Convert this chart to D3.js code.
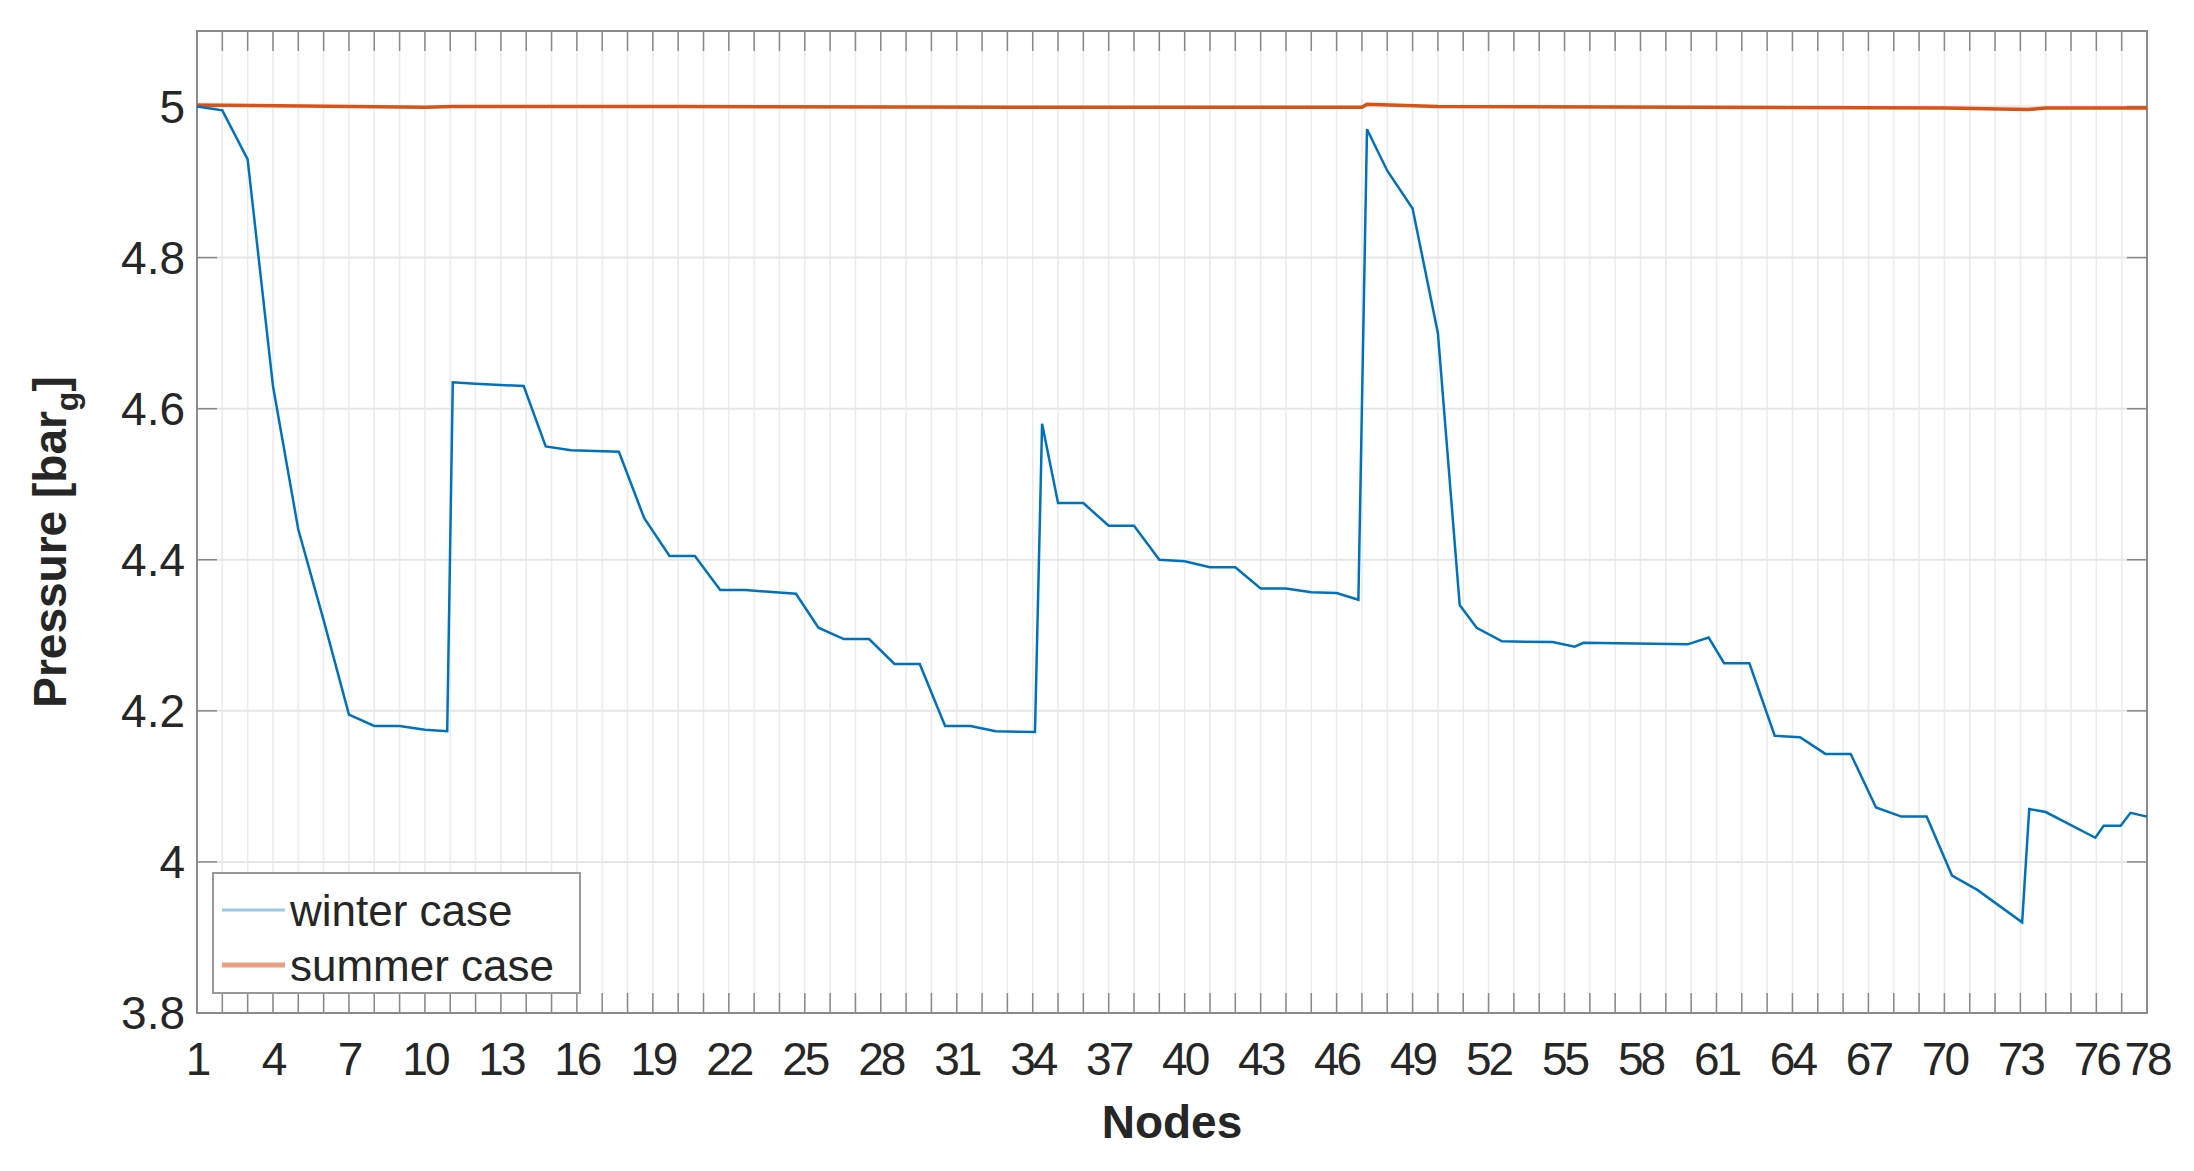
<!DOCTYPE html>
<html><head><meta charset="utf-8">
<script src="https://cdn.jsdelivr.net/npm/d3@7"></script>
<style>body{margin:0;background:#fff}svg{font-family:"Liberation Sans",Arial,sans-serif}</style>
</head><body><svg id="chart"></svg>
<script>
// winter case: node positions (fractional where the line jumps) and pressures
const winterNodes = [1,2,3,4,5,6,7,8,9,10,10.88,11.1,12,13.9,14.77,15.77,17.66,18.66,19.66,20.66,21.66,22.65,24.65,25.54,26.54,27.54,28.54,29.54,30.54,31.54,32.54,34.09,34.37,35,36,37,38,39,40,41,42,43,44,45,46,46.86,47.2,48,49,50,50.86,51.53,52.53,54.53,55.4,55.75,59.86,60.69,61.3,62.3,63.3,64.3,65.3,66.3,67.3,68.3,69.3,70.3,71.3,73.07,73.35,74,75.96,76.29,76.96,77.35,78];
const winterValues = [5.0,4.995,4.93,4.63,4.44,4.32,4.195,4.18,4.18,4.175,4.173,4.635,4.633,4.63,4.55,4.545,4.543,4.455,4.405,4.405,4.36,4.36,4.355,4.31,4.295,4.295,4.262,4.262,4.18,4.18,4.173,4.172,4.58,4.475,4.475,4.445,4.445,4.40,4.398,4.39,4.39,4.362,4.362,4.357,4.356,4.347,4.97,4.915,4.865,4.70,4.34,4.31,4.292,4.291,4.285,4.29,4.288,4.297,4.263,4.263,4.167,4.165,4.143,4.143,4.072,4.06,4.06,3.982,3.963,3.92,4.07,4.066,4.032,4.048,4.048,4.065,4.06];
const summerNodes = [1,10,11.1,20,34,47,47.2,50,60,70,73.3,74,78];
const summerValues = [5.002,4.999,5.0,5.0,4.999,4.999,5.003,5.0,4.999,4.998,4.996,4.998,4.998];
const xTickLabels = [1,4,7,10,13,16,19,22,25,28,31,34,37,40,43,46,49,52,55,58,61,64,67,70,73,76,78];
const yTickLabels = [3.8,4,4.2,4.4,4.6,4.8,5];
const seriesNames = ["winter case","summer case"];

const W = 2194, H = 1171;
const m = {left:197, right:2147, top:31, bottom:1013};
const svg = d3.select("#chart").attr("width", W).attr("height", H);

const x = d3.scaleLinear().domain([1,78]).range([m.left, m.right]);
const y = d3.scaleLinear().domain([3.8,5.1]).range([m.bottom, m.top]);

// grid
const nodes = d3.range(1,79);
svg.append("g").selectAll("line").data(nodes).join("line")
  .attr("x1", d => x(d)).attr("x2", d => x(d)).attr("y1", m.top).attr("y2", m.bottom)
  .attr("stroke", "#ebebeb").attr("stroke-width", 1.5);
svg.append("g").selectAll("line").data(yTickLabels).join("line")
  .attr("x1", m.left).attr("x2", m.right).attr("y1", d => y(d)).attr("y2", d => y(d))
  .attr("stroke", "#e6e6e6").attr("stroke-width", 2);

// ticks inside
const tk = svg.append("g").attr("stroke", "#888").attr("stroke-width", 1.5);
nodes.forEach(d => {
  tk.append("line").attr("x1", x(d)).attr("x2", x(d)).attr("y1", m.bottom).attr("y2", m.bottom - 20);
  tk.append("line").attr("x1", x(d)).attr("x2", x(d)).attr("y1", m.top).attr("y2", m.top + 20);
});
yTickLabels.forEach(d => {
  tk.append("line").attr("x1", m.left).attr("x2", m.left + 20).attr("y1", y(d)).attr("y2", y(d));
  tk.append("line").attr("x1", m.right).attr("x2", m.right - 20).attr("y1", y(d)).attr("y2", y(d));
});

// box
svg.append("rect").attr("x", m.left).attr("y", m.top)
  .attr("width", m.right - m.left).attr("height", m.bottom - m.top)
  .attr("fill", "none").attr("stroke", "#8a8a8a").attr("stroke-width", 2);

// tick labels
svg.append("g").selectAll("text").data(xTickLabels).join("text")
  .attr("x", d => x(d)).attr("y", m.bottom + 62).attr("text-anchor", "middle")
  .attr("font-size", 46).attr("fill", "#262626").attr("letter-spacing", -3).text(d => d);
svg.append("g").selectAll("text").data(yTickLabels).join("text")
  .attr("x", m.left - 12).attr("y", d => y(d) + 16).attr("text-anchor", "end")
  .attr("font-size", 46).attr("fill", "#262626").text(d => d);

// axis labels
svg.append("text").attr("x", (m.left + m.right) / 2).attr("y", 1138)
  .attr("text-anchor", "middle").attr("font-size", 46).attr("font-weight", "bold")
  .attr("fill", "#262626").text("Nodes");
const yl = svg.append("text").attr("transform", `translate(66,${(m.top + m.bottom) / 2 + 20}) rotate(-90)`)
  .attr("text-anchor", "middle").attr("font-size", 46).attr("font-weight", "bold").attr("fill", "#262626");
yl.append("tspan").text("Pressure [bar");
yl.append("tspan").attr("font-size", 32).attr("dy", 12).text("g");
yl.append("tspan").attr("dy", -12).text("]");

// lines
const line = d3.line().x(d => x(d[0])).y(d => y(d[1]));
svg.append("path").datum(d3.zip(summerNodes, summerValues)).attr("d", line)
  .attr("fill", "none").attr("stroke", "#D95319").attr("stroke-width", 3.5);
svg.append("path").datum(d3.zip(winterNodes, winterValues)).attr("d", line)
  .attr("fill", "none").attr("stroke", "#0072BD").attr("stroke-width", 2.5);

// legend
const lg = svg.append("g");
lg.append("rect").attr("x", 213).attr("y", 873).attr("width", 367).attr("height", 120)
  .attr("fill", "#fff").attr("stroke", "#999").attr("stroke-width", 2);
const lc = ["#9ecae8", "#e9a07e"];
seriesNames.forEach((s, i) => {
  const yy = 910 + i * 55;
  lg.append("line").attr("x1", 222).attr("x2", 285).attr("y1", yy).attr("y2", yy)
    .attr("stroke", lc[i]).attr("stroke-width", i ? 5 : 3);
  lg.append("text").attr("x", 290).attr("y", yy + 16).attr("font-size", 44)
    .attr("fill", "#262626").text(s);
});
</script></body></html>
